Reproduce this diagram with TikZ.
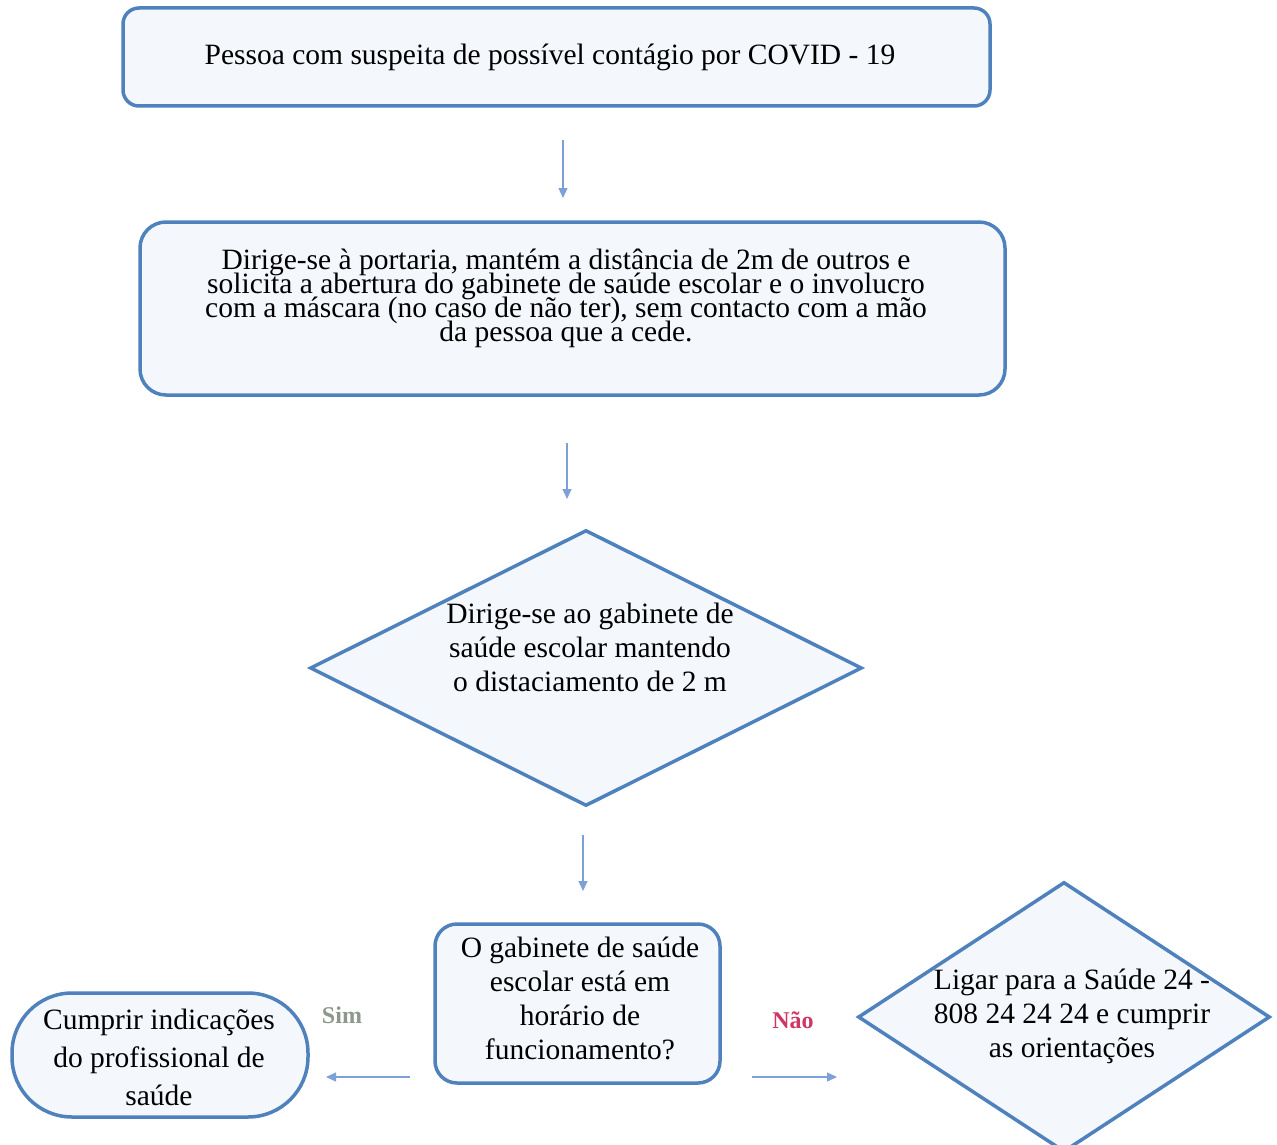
\documentclass[tikz,border=0pt]{standalone}
\usepackage{fontspec}
\setmainfont{Liberation Serif}
\usetikzlibrary{shapes.geometric,arrows.meta}
\definecolor{edge}{RGB}{79,129,189}
\definecolor{paper}{RGB}{244,248,253}
\definecolor{flow}{RGB}{125,160,215}
\definecolor{simc}{RGB}{140,152,140}
\definecolor{naoc}{RGB}{205,55,100}
% dense paragraph setting: baselines closer than the font size
\newcommand\tightlines{\fontsize{29.5}{24}\selectfont
  \setlength\lineskiplimit{-100pt}\setlength\lineskip{0pt}}
\tikzset{
  x=1pt, y=-1pt,
  procbox/.style={draw=edge, fill=paper, line width=3.5pt, rounded corners=16pt,
    inner sep=0pt, align=center},
  decision/.style={diamond, draw=edge, fill=paper, line width=3.5pt, inner sep=0pt,
    align=center},
  label/.style={align=center, inner sep=0pt, font=\fontsize{29.5}{34}\selectfont},
  tightlabel/.style={align=center, inner sep=0pt, font=\tightlines},
  flowarrow/.style={draw=flow, line width=1.3pt, -{Triangle[length=10pt,width=9pt]}},
  answer/.style={font=\fontsize{24}{28}\bfseries\selectfont}
}
\begin{document}
\begin{tikzpicture}
\useasboundingbox (0,0) rectangle (1277,1145);

% process boxes
\node[procbox, minimum width=867pt, minimum height=98pt] (suspeita) at (556.5,57) {};
\node[label] (suspeitatxt) at (550,57)
  {Pessoa com suspeita de possível contágio por COVID - 19};

\node[procbox, rounded corners=26pt, minimum width=865pt, minimum height=173pt] (portaria) at (572.5,308.5) {};
\node[tightlabel] (portariatxt) at (566,298)
  {Dirige-se à portaria, mantém a distância de 2m de outros e\\
   solicita a abertura do gabinete de saúde escolar e o involucro\\
   com a máscara (no caso de não ter), sem contacto com a mão\\
   da pessoa que a cede.};

% decision diamond
\node[decision, minimum width=552pt, minimum height=276pt] (gabinete) at (586,668) {};
\node[label] (gabtxt) at (590,647)
  {Dirige-se ao gabinete de\\saúde escolar mantendo\\o distaciamento de 2 m};

% opening hours question
\node[procbox, rounded corners=22pt, minimum width=285pt, minimum height=159pt] (horario) at (577.5,1003.5) {};
\node[label] (horariotxt) at (580,998)
  {O gabinete de saúde\\escolar está em\\horário de\\funcionamento?};

% outcomes
\node[procbox, rounded corners=60pt, minimum width=296pt, minimum height=124pt] (cumprir) at (160,1055) {};
\node[label, font=\fontsize{29.5}{38}\selectfont] (cumprirtxt) at (159,1057)
  {Cumprir indicações\\do profissional de\\saúde};

\node[decision, minimum width=412pt, minimum height=270pt] (saude24) at (1064,1017) {};
\node[label] (s24txt) at (1072,1016)
  {Ligar para a Saúde 24 -\\808 24 24 24 e cumprir\\as orientações};

% connectors
\coordinate (a1s) at (563,140); \coordinate (a1e) at (563,198);
\coordinate (a2s) at (567,443); \coordinate (a2e) at (567,499);
\coordinate (a3s) at (583,835); \coordinate (a3e) at (583,891);
\coordinate (sims) at (410,1077); \coordinate (sime) at (326,1077);
\coordinate (naos) at (752,1077); \coordinate (naoe) at (837,1077);
\draw[flowarrow] (a1s) -- (a1e);
\draw[flowarrow] (a2s) -- (a2e);
\draw[flowarrow] (a3s) -- (a3e);
\draw[flowarrow] (sims) -- (sime);
\draw[flowarrow] (naos) -- (naoe);

\node[answer, text=simc] (sim) at (342,1015) {Sim};
\node[answer, text=naoc] (nao) at (793,1020) {Não};
\end{tikzpicture}
\end{document}
